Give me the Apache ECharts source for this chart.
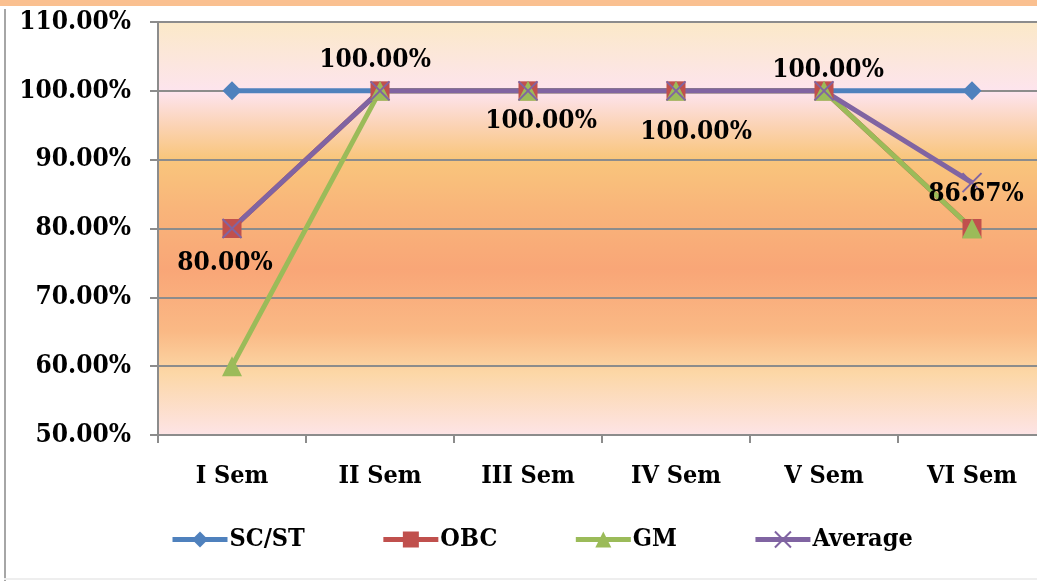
<!DOCTYPE html>
<html><head><meta charset="utf-8">
<script src="https://cdn.jsdelivr.net/npm/echarts@6/dist/echarts.min.js"></script>
<style>html,body{margin:0;padding:0;background:#fff;overflow:hidden;}#c{width:1046px;height:581px;}</style>
</head><body><div id="c"></div>
<script>
const categories = ['I Sem','II Sem','III Sem','IV Sem','V Sem','VI Sem'];
const scst = [100,100,100,100,100,100];
const obc = [80,100,100,100,100,80];
const gm = [60,100,100,100,100,80];
const average = [80,100,100,100,100,86.67];
const labelOffsets = [[-7,35],[-5,-31],[13,30],[20,41],[4,-21],[4,12]];

const FONT = '"DejaVu Serif Condensed","DejaVu Serif",serif';
const chart = echarts.init(document.getElementById('c'));
const xPath = 'path://M0,0 L10,10 M10,0 L0,10';
chart.setOption({
  animation:false,
  graphic:[
    {type:'rect',shape:{x:0,y:0,width:1046,height:6},style:{fill:'#FAC090'},silent:true},
    {type:'rect',shape:{x:4,y:9,width:2,height:572},style:{fill:'#A6A6A6'},silent:true},
    {type:'rect',shape:{x:4,y:578,width:1042,height:2},style:{fill:'#EEEEEE'},silent:true}
  ],
  grid:{left:158,width:888,top:22,height:413,show:true,borderWidth:0,
    backgroundColor:{type:'linear',x:0,y:0,x2:0,y2:1,colorStops:[
      {offset:0,color:'#FBE9C8'},{offset:0.17,color:'#FDE4EE'},{offset:0.25,color:'#FBD3B5'},
      {offset:0.33,color:'#F9C67C'},{offset:0.45,color:'#F9B57A'},{offset:0.6,color:'#F9A677'},
      {offset:0.75,color:'#FAB985'},{offset:0.85,color:'#FCD7A6'},{offset:1,color:'#FDE4E6'}]}},
  xAxis:{type:'category',data:categories,boundaryGap:true,
    axisLine:{lineStyle:{color:'#8C8C8C',width:2}},
    axisTick:{show:true,length:8,lineStyle:{color:'#8C8C8C',width:2}},
    axisLabel:{color:'#000',fontFamily:FONT,fontWeight:'bold',fontSize:25,margin:29}},
  yAxis:{type:'value',min:50,max:110,interval:10,
    axisLine:{show:true,lineStyle:{color:'#8C8C8C',width:2}},
    axisTick:{show:true,length:8,lineStyle:{color:'#8C8C8C',width:2}},
    splitLine:{lineStyle:{color:'#8C8C8C',width:2}},
    axisLabel:{color:'#000',fontFamily:FONT,fontWeight:'bold',fontSize:26,margin:27,
      formatter:v=>v.toFixed(2)+'%'}},
  legend:{top:522,left:165,itemGap:76,itemWidth:55,itemHeight:20,
    lineStyle:{width:5},
    textStyle:{color:'#000',fontFamily:FONT,fontWeight:'bold',fontSize:25,padding:[0,0,0,-3]},
    data:['SC/ST','OBC','GM','Average']},
  series:[
    {name:'SC/ST',type:'line',data:scst,symbol:'diamond',symbolSize:19,
      lineStyle:{width:5,color:'#4F81BD'},itemStyle:{color:'#4F81BD'}},
    {name:'OBC',type:'line',data:obc,symbol:'rect',symbolSize:19,
      lineStyle:{width:5,color:'#C0504D'},itemStyle:{color:'#C0504D'}},
    {name:'GM',type:'line',data:gm,symbol:'triangle',symbolSize:20,
      lineStyle:{width:5,color:'#9BBB59'},itemStyle:{color:'#9BBB59'}},
    {name:'Average',type:'line',data:average.map((v,i)=>({value:v,label:{offset:labelOffsets[i]}})),
      symbol:xPath,symbolSize:19,
      lineStyle:{width:5,color:'#8064A2'},itemStyle:{color:'#8064A2',borderColor:'#8064A2',borderWidth:2},
      label:{show:true,position:'inside',color:'#000',fontFamily:FONT,fontWeight:'bold',fontSize:26,
        formatter:p=>p.value.toFixed(2)+'%'}}
  ]
});
</script></body></html>
